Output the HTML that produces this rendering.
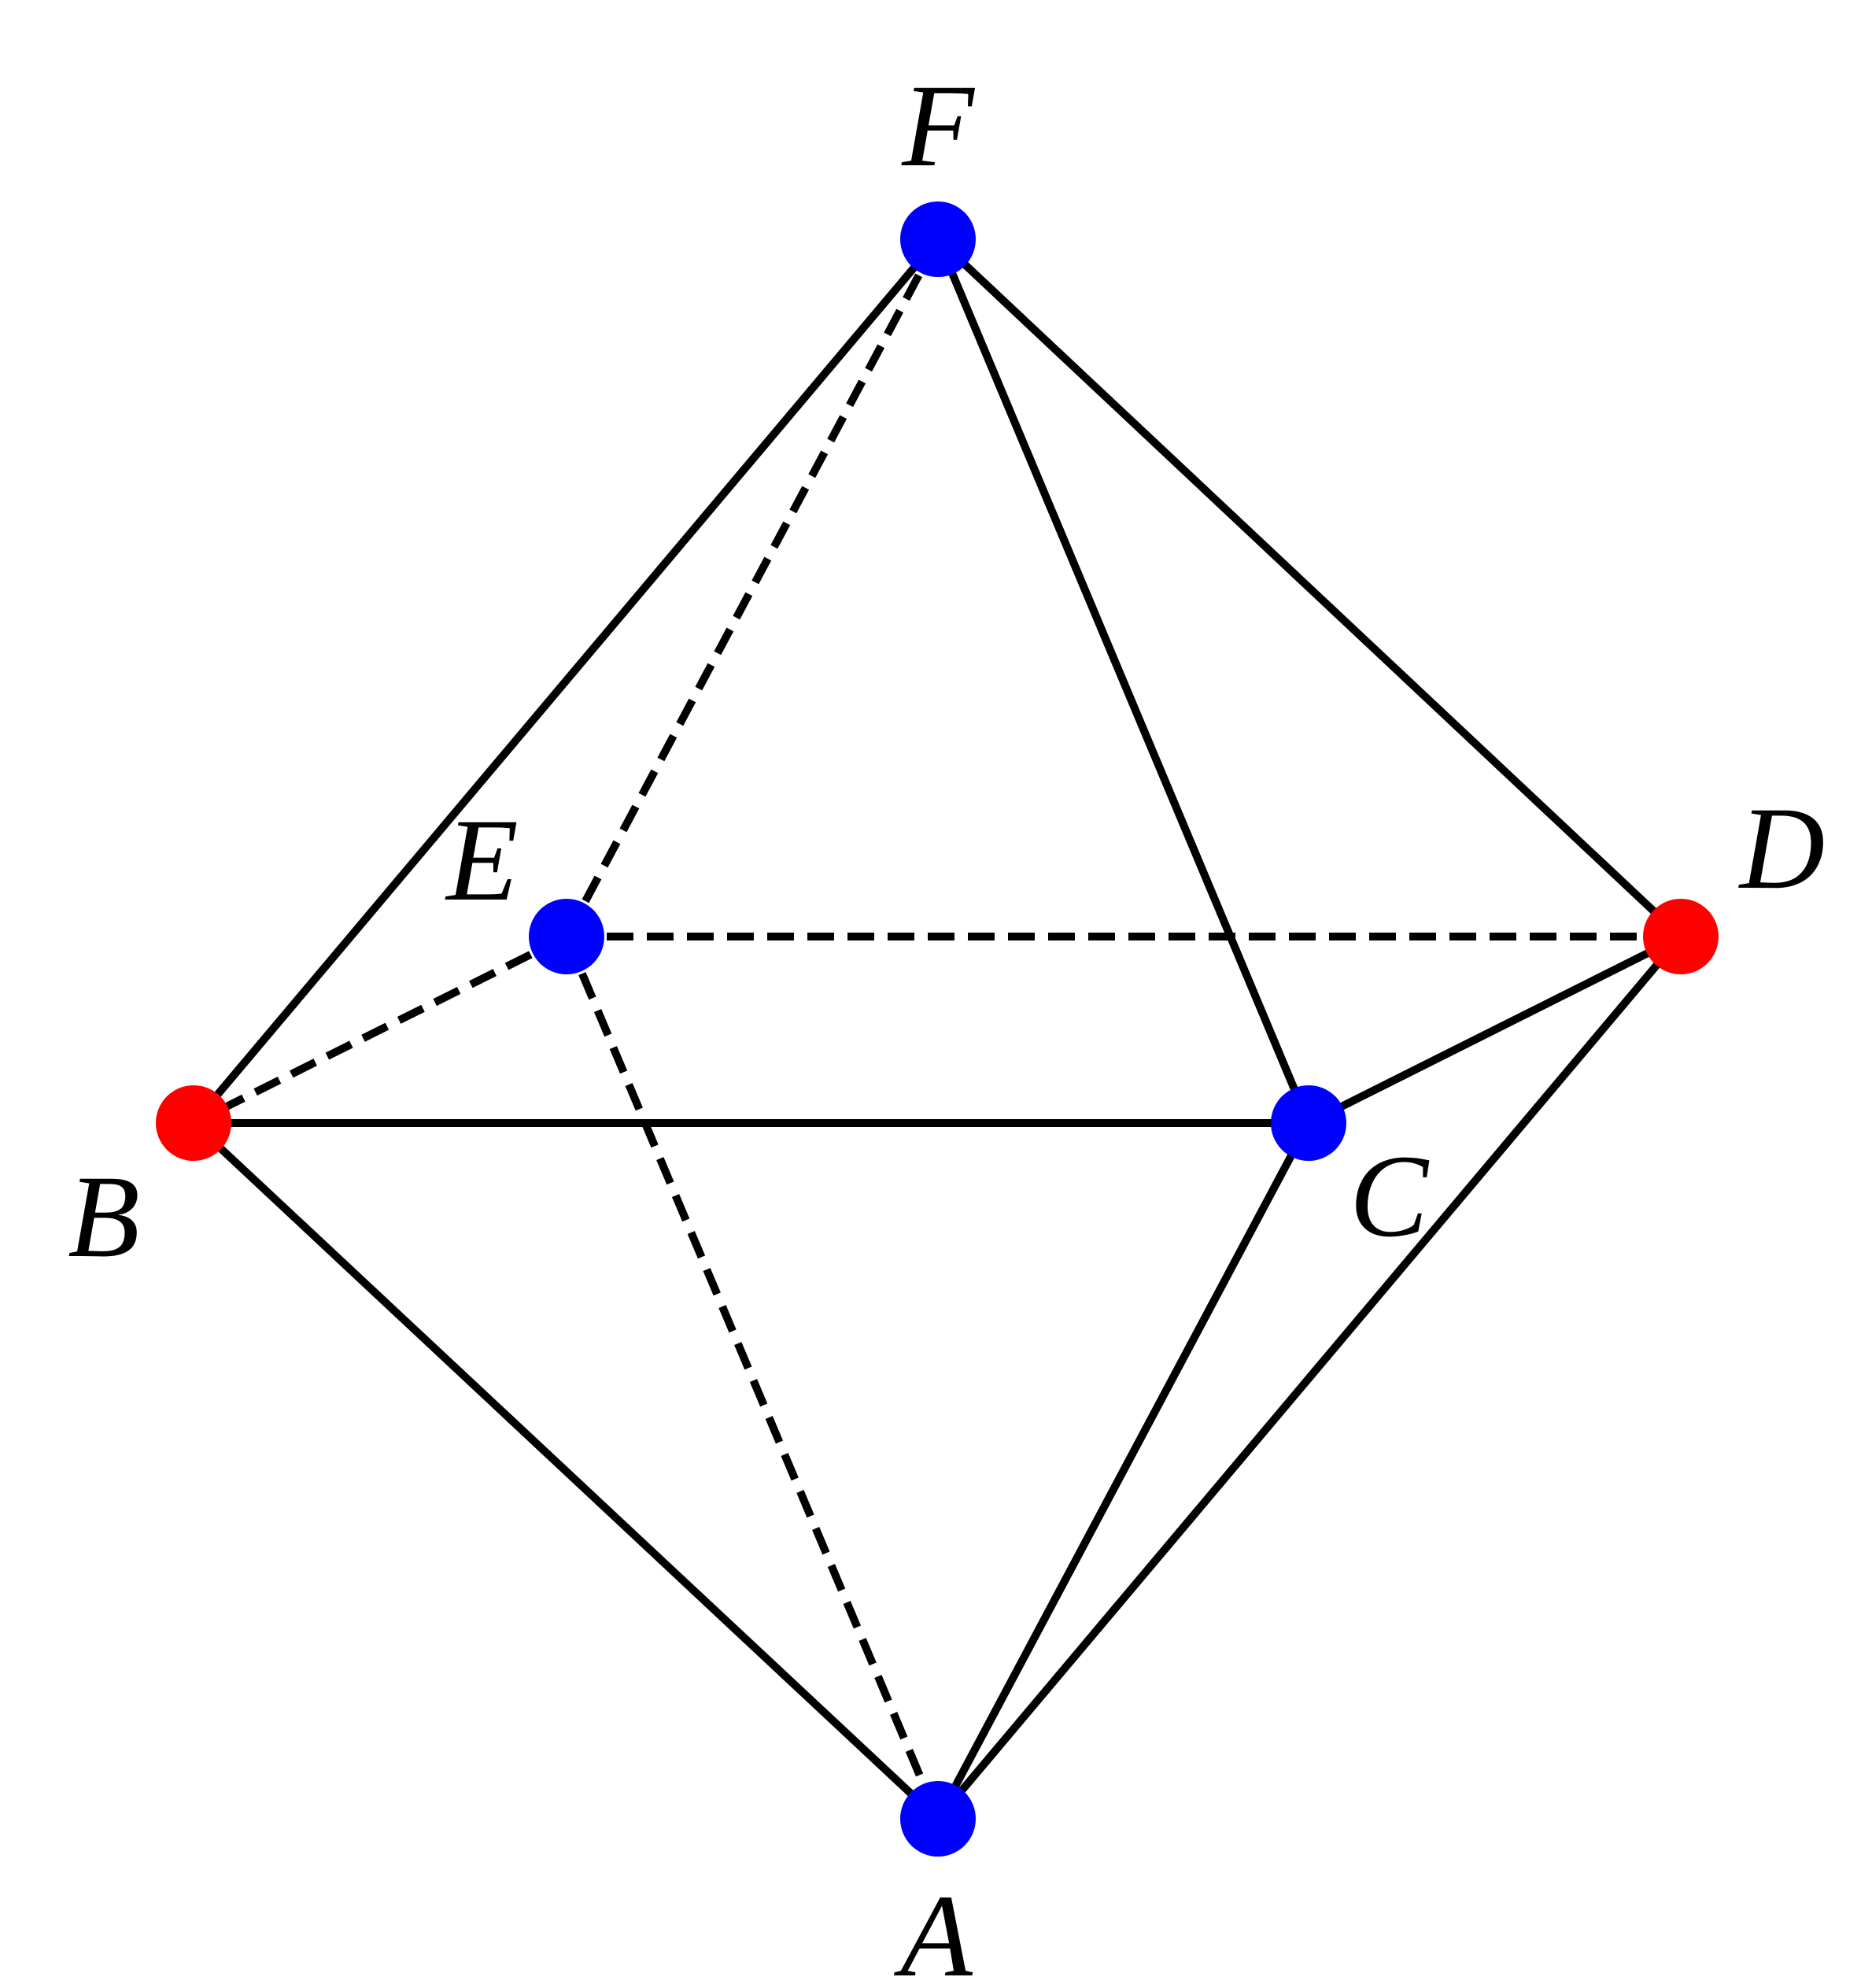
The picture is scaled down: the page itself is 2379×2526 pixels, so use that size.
<!DOCTYPE html>
<html><head><style>html,body{margin:0;padding:0;background:#fff}text{font-family:"Liberation Serif","Times New Roman",serif;font-style:italic}</style></head>
<body>
<svg width="2379" height="2521" viewBox="0 0 2379 2521" xmlns="http://www.w3.org/2000/svg">
<g stroke="#000" stroke-width="10" fill="none">
<line x1="1192" y1="304" x2="246" y2="1427"/>
<line x1="1192" y1="304" x2="2136" y2="1190"/>
<line x1="1192" y1="304" x2="1663" y2="1427"/>
<line x1="246" y1="1427" x2="1663" y2="1427"/>
<line x1="1663" y1="1427" x2="2136" y2="1190"/>
<line x1="246" y1="1427" x2="1192" y2="2311"/>
<line x1="1663" y1="1427" x2="1192" y2="2311"/>
<line x1="2136" y1="1190" x2="1192" y2="2311"/>
<g stroke-dasharray="34 17">
<line x1="720" y1="1190" x2="1192" y2="304"/>
<line x1="720" y1="1190" x2="2136" y2="1190"/>
<line x1="720" y1="1190" x2="246" y2="1427"/>
<line x1="720" y1="1190" x2="1192" y2="2311"/>
</g>
</g>
<g fill="#0000ff">
<circle cx="1192" cy="304" r="48"/>
<circle cx="720" cy="1190" r="48"/>
<circle cx="1663" cy="1427" r="48"/>
<circle cx="1192" cy="2311" r="48"/>
</g>
<g fill="#ff0000">
<circle cx="246" cy="1427" r="48"/>
<circle cx="2136" cy="1190" r="48"/>
</g>
<g font-size="150" fill="#000" text-anchor="middle">
<text x="1192" y="210">F</text>
<text x="613" y="1143">E</text>
<text x="2265" y="1128">D</text>
<text x="132" y="1596">B</text>
<text x="1765" y="1570">C</text>
<text x="1190" y="2510">A</text>
</g>
</svg>
</body></html>
